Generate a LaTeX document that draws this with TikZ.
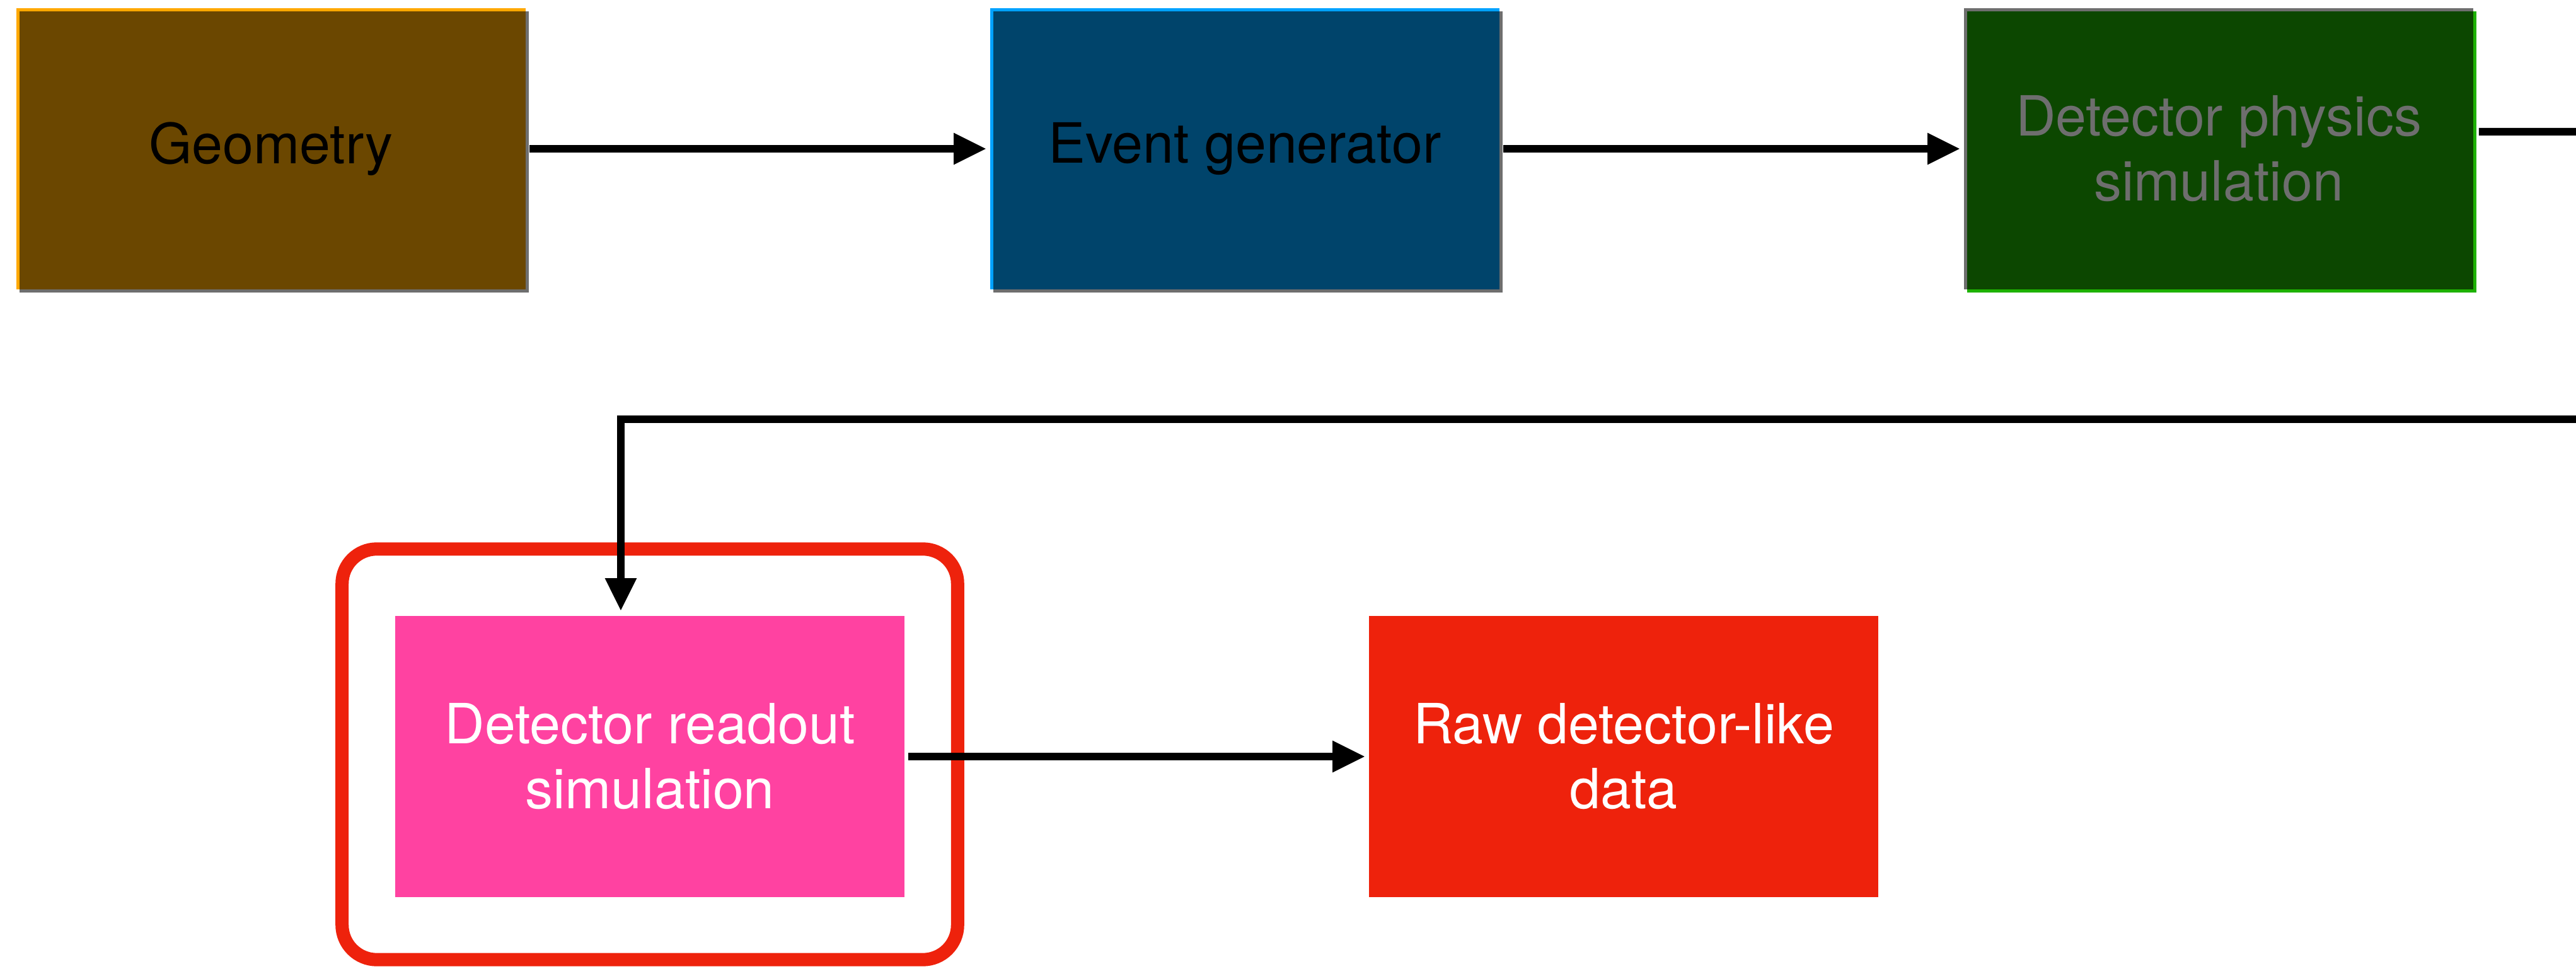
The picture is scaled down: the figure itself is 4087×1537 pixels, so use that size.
\documentclass[tikz,border=0pt]{standalone}
\usepackage{fontspec}
\setmainfont{TeX Gyre Heros}
\usetikzlibrary{arrows.meta,shadows}
\definecolor{geofill}{HTML}{6B4700}
\definecolor{geohi}{HTML}{FFA800}
\definecolor{evfill}{HTML}{00446B}
\definecolor{evhi}{HTML}{00A2FF}
\definecolor{dpfill}{HTML}{0C4700}
\definecolor{dpgreen}{HTML}{1DB100}
\definecolor{kgray}{HTML}{6E6E6E}
\definecolor{kpink}{HTML}{FF42A1}
\definecolor{kred}{HTML}{EE220C}
\begin{document}
\begin{tikzpicture}[x=0.01cm,y=-0.01cm,
  box/.style={minimum width=8.08cm, minimum height=4.46cm, inner sep=0pt,
    align=center, font=\fontsize{25}{29.3}\selectfont},
  bevel/.style n args={3}{fill=#1,
    general shadow={shadow xshift=0.05cm, shadow yshift=-0.05cm, fill=#2},
    path picture={\fill[#3] ([shift={(0.05cm,-0.05cm)}]path picture bounding box.north west)
      rectangle (path picture bounding box.south east);}},
  conn/.style={draw=black, line width=0.12cm, -{Triangle[length=0.52cm,width=0.47cm]}},
  plainline/.style={draw=black, line width=0.12cm},
  frame/.style={draw=kred, line width=0.21cm, rounded corners=0.55cm,
    minimum width=9.76cm, minimum height=6.51cm, inner sep=0pt}
  ]
\useasboundingbox (0,0) rectangle (4087,1537);

% top row
\node[box, bevel={geohi}{kgray}{geofill}, text=black] (geo) at (430,236) {Geometry};
\node[box, bevel={evhi}{kgray}{evfill}, text=black] (ev) at (1975,236) {Event generator};
\node[box, bevel={kgray}{dpgreen}{dpfill}, text=kgray] (dp) at (3520,236) {Detector physics\\simulation};

% bottom row
\node[frame] (hl) at (1031,1196.5) {};
\node[box, fill=kpink, text=white] (pink) at (1031,1200) {Detector readout\\simulation};
\node[box, fill=kred, text=white] (raw) at (2576,1200) {Raw detector-like\\data};

% connectors
\coordinate (exitR) at (4087,209);
\coordinate (entryR) at (4087,665);
\draw[conn, shorten <=0.05cm, shorten >=0.05cm] (geo.east) -- (ev.west);
\draw[conn, shorten <=0.05cm, shorten >=0.05cm] (ev.east) -- (dp.west);
\draw[plainline, shorten <=0.08cm] ([yshift=0.27cm]dp.east) -- (exitR);
\draw[conn, shorten >=0.07cm] (entryR) -| ([xshift=-0.46cm]pink.north);
\draw[conn, shorten <=0.05cm, shorten >=0.05cm] (pink.east) -- (raw.west);
\end{tikzpicture}
\end{document}
